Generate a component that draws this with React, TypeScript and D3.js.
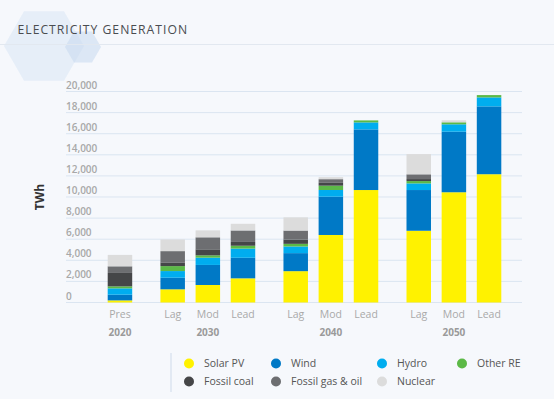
import * as d3 from "d3";

const categories = ["Pres", "Lag", "Mod", "Lead", "Lag", "Mod", "Lead", "Lag", "Mod", "Lead"];
const years = ["2020", "2030", "2030", "2030", "2040", "2040", "2040", "2050", "2050", "2050"];
const slots = [0, 1.5, 2.5, 3.5, 5, 6, 7, 8.5, 9.5, 10.5];

const solar = [200, 1250, 1660, 2290, 2970, 6400, 10660, 6800, 10450, 12160];
const wind = [540, 1100, 1900, 1950, 1710, 3630, 5750, 3860, 5740, 6430];
const hydro = [600, 630, 690, 870, 630, 635, 660, 630, 700, 850];
const otherRE = [190, 470, 220, 270, 250, 410, 190, 220, 190, 220];
const coal = [1270, 350, 570, 360, 410, 265, 0, 190, 0, 0];
const gas = [630, 1070, 1140, 1090, 850, 350, 0, 450, 0, 0];
const nuclear = [1080, 1110, 660, 630, 1250, 190, 0, 1920, 190, 0];

const yTicks = [0, 2000, 4000, 6000, 8000, 10000, 12000, 14000, 16000, 18000, 20000];

const seriesKeys = ["Solar PV", "Wind", "Hydro", "Other RE", "Fossil coal", "Fossil gas & oil", "Nuclear"];
const seriesValues = [solar, wind, hydro, otherRE, coal, gas, nuclear];
const colors = ["#fff200", "#0079c6", "#00adef", "#5cb947", "#454648", "#6d6e71", "#dcdcdc"];

const FONT = "'Open Sans', 'Noto Sans', sans-serif";

function hexPoints(cx: number, cy: number, r: number) {
  return d3
    .range(6)
    .map((i) => {
      const a = (Math.PI / 3) * i;
      return `${cx + r * Math.cos(a)},${cy + r * Math.sin(a)}`;
    })
    .join(" ");
}

export default function App() {
  const width = 554;
  const height = 399;

  const rows = categories.map((c, i) => {
    const r: Record<string, number> = { idx: i };
    seriesKeys.forEach((k, j) => (r[k] = seriesValues[j][i]));
    return r;
  });
  const stacked = d3.stack<Record<string, number>>().keys(seriesKeys)(rows);

  const y = d3.scaleLinear().domain([0, 20000]).range([302.5, 91.5]);
  const x = d3.scaleLinear().domain([0, 10.5]).range([107.7, 476.8]);
  const barW = 24.5;
  const fmt = d3.format(",");

  const yearGroups = d3.groups(
    categories.map((c, i) => ({ year: years[i], slot: slots[i] })),
    (d) => d.year
  );

  const legendCols = [189, 276, 382, 462];
  const legendRows = [363.5, 381.5];

  return (
    <svg
      width={width}
      height={height}
      style={{ position: "absolute", left: 0, top: 0, background: "#f6f8fc", fontFamily: FONT }}
    >
      <polygon points={hexPoints(44, 46, 40)} fill="#d3e2f3" opacity={0.45} />
      <polygon points={hexPoints(83, 47, 18)} fill="#c6d9ef" opacity={0.55} />
      <line x1={0} x2={width} y1={44.5} y2={44.5} stroke="#e2e8f0" strokeWidth={1} />
      <text x={17.5} y={33.5} fontSize={12.2} fill="#4a4c50" letterSpacing={1}>
        ELECTRICITY GENERATION
      </text>

      {yTicks.map((t) => (
        <g key={t}>
          <line x1={66} x2={522} y1={y(t)} y2={y(t)} stroke="#dbe5f1" strokeWidth={1} />
          <text x={66} y={y(t) - 3} fontSize={10} fontWeight={600} fill="#a8a8a8">
            {fmt(t)}
          </text>
        </g>
      ))}

      <text
        transform="translate(44,197) rotate(-90)"
        textAnchor="middle"
        fontSize={12}
        fontWeight={700}
        fill="#333"
      >
        TWh
      </text>

      {stacked.map((s, j) => (
        <g key={s.key} fill={colors[j]}>
          {s.map((d, i) =>
            d[1] - d[0] > 0 ? (
              <rect
                key={i}
                x={x(slots[i])}
                width={barW}
                y={y(d[1])}
                height={y(d[0]) - y(d[1])}
              />
            ) : null
          )}
        </g>
      ))}

      {categories.map((c, i) => (
        <text
          key={i}
          x={x(slots[i]) + barW / 2}
          y={317.5}
          textAnchor="middle"
          fontSize={10.5}
          fill="#a9a9a9"
        >
          {c}
        </text>
      ))}
      {yearGroups.map(([yr, items]) => (
        <text
          key={yr}
          x={x(d3.mean(items, (d) => d.slot) as number) + barW / 2}
          y={335.5}
          textAnchor="middle"
          fontSize={10}
          fontWeight={700}
          fill="#9a9a9a"
        >
          {yr}
        </text>
      ))}

      <line x1={171} x2={171} y1={353} y2={392} stroke="#dbe5f1" strokeWidth={1.5} />
      {seriesKeys.map((k, j) => {
        const cx = legendCols[j % 4];
        const cy = legendRows[Math.floor(j / 4)];
        return (
          <g key={k}>
            <circle cx={cx} cy={cy} r={5} fill={colors[j]} />
            <text x={cx + 15} y={cy + 3.8} fontSize={10.5} fill="#555">
              {k}
            </text>
          </g>
        );
      })}
    </svg>
  );
}
